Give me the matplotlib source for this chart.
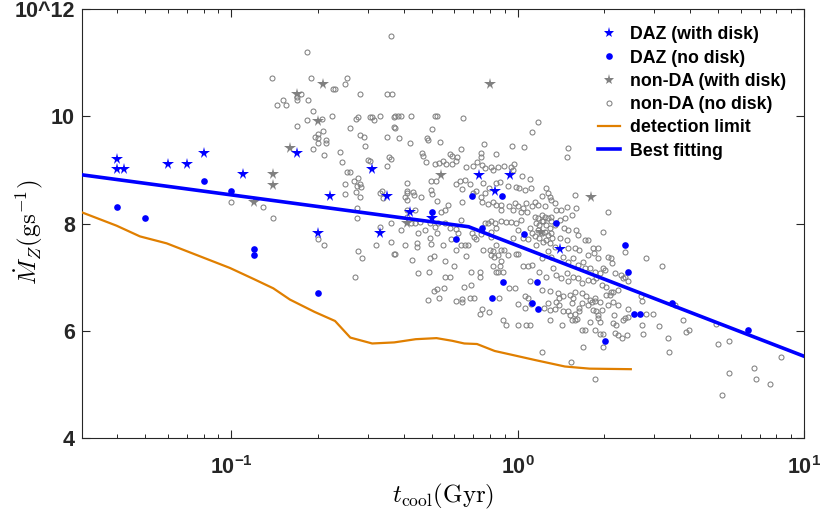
import numpy as np
import matplotlib
matplotlib.use("Agg")
import matplotlib.pyplot as plt
from matplotlib.lines import Line2D
from matplotlib.ticker import FixedLocator, FixedFormatter, LogLocator, NullFormatter

plt.rcParams['font.family'] = ['Liberation Sans', 'DejaVu Sans']
plt.rcParams['mathtext.fontset'] = 'custom'
plt.rcParams['mathtext.rm'] = 'Liberation Sans'
plt.rcParams['mathtext.bf'] = 'Liberation Sans:bold'
plt.rcParams['mathtext.it'] = 'Liberation Sans:italic'

# DAZ with disk (t_cool [Gyr], log Mdot_Z [g/s])
daz_disk_t = [0.04, 0.04, 0.042, 0.06, 0.07, 0.08, 0.11, 0.17, 0.20, 0.22, 0.31,
              0.33, 0.35, 0.42, 0.50, 0.73, 0.83, 0.94, 1.40]
daz_disk_m = [9.20, 9.02, 9.02, 9.12, 9.12, 9.32, 8.92, 9.32, 7.82, 8.52, 9.02,
              7.82, 8.52, 8.21, 8.10, 8.91, 8.61, 8.91, 7.52]

# DAZ without disk
daz_nodisk_t = [0.04, 0.05, 0.08, 0.10, 0.12, 0.12, 0.20, 0.50, 0.69, 0.88, 0.75,
                0.61, 1.05, 1.36, 2.37, 2.43, 0.89, 1.17, 0.81, 1.12, 1.18, 2.55,
                2.66, 2.01, 3.45, 6.36]
daz_nodisk_m = [8.31, 8.10, 8.80, 8.61, 7.52, 7.42, 6.70, 8.22, 8.51, 8.51, 7.91,
                7.71, 7.81, 8.01, 7.60, 7.10, 6.90, 6.90, 6.61, 6.51, 6.40, 6.31,
                6.31, 5.81, 6.51, 6.01]

# non-DA with disk
nonda_disk_t = [0.208, 0.169, 0.20, 0.16, 0.14, 0.14, 0.12, 0.80, 0.54, 1.80, 0.41, 1.20]
nonda_disk_m = [10.61, 10.42, 9.91, 9.41, 8.92, 8.72, 8.41, 10.61, 8.91, 8.50, 8.01, 7.85]

# non-DA without disk, (t_cool, log Mdot_Z)
nonda_nodisk = [
    # t < 0.4 Gyr
    (0.36, 11.51), (0.183, 11.21), (0.138, 10.71), (0.19, 10.71), (0.254, 10.71),
    (0.249, 10.61), (0.226, 10.51), (0.23, 10.51), (0.28, 10.42), (0.348, 10.42),
    (0.363, 10.42), (0.175, 10.42), (0.169, 10.37), (0.169, 10.31), (0.151, 10.31),
    (0.185, 10.31), (0.144, 10.21), (0.155, 10.21), (0.193, 10.11), (0.225, 10.01),
    (0.184, 9.94), (0.207, 9.96), (0.272, 9.96), (0.276, 9.99), (0.304, 9.99),
    (0.31, 9.99), (0.314, 9.94), (0.33, 10.0), (0.368, 9.99), (0.368, 9.81),
    (0.169, 9.82), (0.26, 9.78), (0.209, 9.73), (0.2, 9.68), (0.195, 9.61),
    (0.2, 9.59), (0.2, 9.51), (0.213, 9.56), (0.213, 9.51), (0.28, 9.66),
    (0.29, 9.61), (0.293, 9.45), (0.35, 9.61), (0.193, 9.40), (0.21, 9.28),
    (0.24, 9.33), (0.243, 9.15), (0.30, 9.19), (0.304, 9.17), (0.355, 9.25),
    (0.36, 9.21), (0.35, 9.08), (0.254, 8.96), (0.26, 8.96), (0.277, 8.85),
    (0.268, 8.79), (0.281, 8.74), (0.274, 8.70), (0.283, 8.69), (0.25, 8.74),
    (0.25, 8.55), (0.273, 8.58), (0.281, 8.50), (0.335, 8.61), (0.33, 8.57),
    (0.337, 8.47), (0.10, 8.41), (0.129, 8.31), (0.14, 8.10), (0.274, 8.29),
    (0.274, 8.10), (0.33, 7.94), (0.36, 8.01), (0.36, 7.66), (0.32, 7.60),
    (0.277, 7.49), (0.286, 7.36), (0.27, 7.01), (0.37, 7.43), (0.2, 7.71),
    (0.21, 7.60), (0.41, 8.26), (0.41, 8.13), (0.41, 8.57), (0.41, 8.60),
    # 0.37 - 1.1 Gyr, upper part
    (0.372, 10.01), (0.383, 10.01), (0.39, 10.01), (0.423, 10.01), (0.513, 10.0),
    (0.52, 10.01), (0.643, 9.98), (0.372, 9.79), (0.503, 9.76), (0.384, 9.59),
    (0.42, 9.51), (0.483, 9.60), (0.487, 9.56), (0.535, 9.52), (0.762, 9.48),
    (0.632, 9.39), (0.956, 9.44), (1.05, 9.43), (1.12, 9.71), (0.463, 9.31),
    (0.466, 9.27), (0.578, 9.29), (0.59, 9.27), (0.613, 9.24), (0.746, 9.31),
    (0.742, 9.24), (0.839, 9.30), (0.477, 9.15), (0.513, 9.11), (0.53, 9.13),
    (0.548, 9.17), (0.562, 9.11), (0.589, 9.11), (0.61, 9.17), (0.66, 9.05),
    (0.695, 9.07), (0.72, 9.14), (0.75, 9.10), (0.77, 9.03), (0.808, 9.05),
    (0.82, 9.0), (0.853, 9.05), (0.895, 9.07), (0.97, 9.12), (0.949, 9.05),
    (0.962, 9.0), (1.03, 8.88), (1.10, 8.83), (0.41, 8.75), (0.499, 8.79),
    (0.517, 8.79), (0.61, 8.74), (0.626, 8.79), (0.652, 8.82), (0.683, 8.74),
    (0.755, 8.75), (0.79, 8.66), (0.836, 8.75), (0.863, 8.77), (0.924, 8.70),
    (0.988, 8.69), (1.01, 8.66), (1.056, 8.63), (1.115, 8.66), (0.403, 8.50),
    (0.41, 8.44), (0.431, 8.58), (0.434, 8.54), (0.46, 8.50), (0.496, 8.62),
    (0.503, 8.56), (0.524, 8.43), (0.64, 8.65), (0.695, 8.57), (0.714, 8.61),
    (0.766, 8.57), (0.742, 8.50), (0.75, 8.41), (0.787, 8.37), (0.819, 8.41),
    (0.841, 8.35), (0.87, 8.35), (0.876, 8.26), (0.935, 8.32), (0.975, 8.38),
    (0.962, 8.26), (1.0, 8.33), (1.042, 8.29), (1.07, 8.38), (1.12, 8.32),
    (1.023, 8.22), (1.078, 8.21), (0.57, 8.35), (0.555, 8.26), (0.538, 8.21),
    (0.64, 8.41), (0.436, 8.26),
    # 0.37 - 1.1 Gyr, lower part
    (0.392, 7.88), (0.448, 7.83), (0.473, 7.88), (0.423, 8.01), (0.436, 8.01),
    (0.454, 8.03), (0.495, 8.01), (0.513, 7.93), (0.52, 7.82), (0.526, 8.01),
    (0.555, 8.01), (0.578, 7.91), (0.61, 7.90), (0.618, 7.82), (0.635, 8.07),
    (0.493, 7.73), (0.499, 7.62), (0.403, 7.60), (0.446, 7.63), (0.446, 7.56),
    (0.548, 7.60), (0.586, 7.71), (0.61, 7.51), (0.635, 7.60), (0.652, 7.60),
    (0.67, 7.60), (0.694, 7.82), (0.701, 7.74), (0.716, 7.71), (0.746, 7.80),
    (0.766, 8.01), (0.787, 8.01), (0.808, 8.04), (0.83, 8.01), (0.841, 7.91),
    (0.808, 7.85), (0.803, 7.75), (0.876, 8.04), (0.91, 8.03), (0.949, 8.03),
    (0.988, 8.01), (1.023, 8.07), (0.962, 7.73), (1.001, 7.88), (1.042, 7.73),
    (1.085, 7.71), (1.12, 7.82), (1.10, 7.91), (0.758, 7.51), (0.797, 7.51),
    (0.819, 7.48), (0.841, 7.60), (0.808, 7.41), (0.825, 7.37), (0.853, 7.41),
    (0.876, 7.51), (0.895, 7.51), (0.924, 7.41), (0.988, 7.43), (1.0, 7.43),
    (1.042, 7.20), (1.085, 7.20), (1.12, 7.23), (0.658, 7.40), (0.599, 7.20),
    (0.555, 7.30), (0.493, 7.35), (0.51, 7.40), (0.819, 7.20), (0.866, 7.20),
    (0.876, 7.30), (0.841, 7.10), (0.853, 7.10), (0.886, 7.10), (0.427, 7.32),
    (0.372, 7.43), (0.448, 7.07), (0.488, 7.10), (0.555, 7.01), (0.578, 7.01),
    (0.688, 7.10), (0.736, 7.10), (0.74, 7.01), (0.649, 6.81), (0.688, 6.85),
    (0.51, 6.74), (0.524, 6.77), (0.551, 6.80), (0.487, 6.57), (0.529, 6.61),
    (0.607, 6.56), (0.64, 6.59), (0.64, 6.54), (0.679, 6.61), (0.701, 6.61),
    (0.929, 6.80), (0.98, 6.80), (0.857, 6.61), (1.056, 6.64), (1.085, 6.61),
    (1.0, 6.49), (1.056, 6.42), (1.108, 6.49), (0.75, 6.40), (0.74, 6.31),
    (0.793, 6.34), (0.886, 6.20), (0.907, 6.11), (1.0, 6.11), (1.065, 6.11),
    (1.10, 6.11), (1.10, 6.92),
    # 1.1 - 2.1 Gyr, upper part
    (1.18, 9.89), (1.50, 9.41), (1.48, 9.25), (1.58, 8.54), (1.25, 8.66),
    (1.27, 8.57), (1.21, 8.52), (1.29, 8.50), (1.31, 8.44), (1.35, 8.38),
    (1.48, 8.30), (1.60, 8.29), (1.36, 8.26), (1.42, 8.26), (1.15, 8.41),
    (1.18, 8.35), (1.24, 8.32), (2.07, 8.21),
    # dense clump around 1.2 Gyr
    (1.15, 8.13), (1.18, 8.10), (1.21, 8.16), (1.24, 8.13), (1.16, 8.01),
    (1.19, 7.98), (1.22, 8.04), (1.25, 7.98), (1.29, 7.91), (1.18, 7.88),
    (1.21, 7.82), (1.24, 7.85), (1.27, 7.79), (1.31, 7.82), (1.15, 7.76),
    (1.19, 7.73), (1.22, 7.66), (1.25, 7.70), (1.29, 7.63), (1.32, 7.73),
    (1.16, 7.60), (1.35, 7.98), (1.35, 7.57), (1.31, 8.04), (1.27, 8.10),
    (1.21, 8.04), (1.31, 8.13), (1.40, 8.07), (1.46, 8.11), (1.54, 8.16),
    (1.45, 7.91), (1.50, 7.88), (1.59, 7.88), (1.62, 7.79), (1.98, 7.84),
    # 1.1 - 3.4 Gyr, lower part
    (1.40, 7.73), (1.48, 7.70), (1.50, 7.54), (1.58, 7.54), (1.64, 7.51),
    (1.71, 7.70), (1.76, 7.70), (1.83, 7.54), (1.91, 7.55), (1.76, 7.41),
    (1.85, 7.45), (1.91, 7.35), (2.12, 7.35), (2.07, 7.38), (1.98, 7.17),
    (2.13, 7.26), (1.21, 7.35), (1.27, 7.48), (1.31, 7.38), (1.44, 7.38),
    (1.50, 7.29), (1.56, 7.35), (1.62, 7.23), (1.69, 7.29), (1.71, 7.17),
    (1.78, 7.17), (1.86, 7.10), (1.94, 7.07), (2.01, 7.13), (2.18, 7.07),
    (2.30, 7.04), (2.36, 7.01), (2.33, 6.98), (2.43, 6.92), (1.19, 7.10),
    (1.25, 7.01), (1.33, 7.17), (1.36, 7.04), (1.42, 6.98), (1.48, 7.07),
    (1.50, 6.92), (1.56, 7.01), (1.62, 6.98), (1.67, 6.89), (1.76, 6.95),
    (1.83, 6.92), (1.88, 6.98), (1.96, 6.85), (2.03, 6.82), (2.12, 6.73),
    (2.24, 6.76), (1.21, 6.76), (1.29, 6.74), (1.38, 6.70), (1.44, 6.64),
    (1.52, 6.67), (1.58, 6.73), (1.67, 6.70), (1.73, 6.64), (1.78, 6.57),
    (1.86, 6.61), (1.94, 6.54), (2.03, 6.67), (2.09, 6.67), (2.15, 6.72),
    (2.70, 6.64), (2.71, 6.56), (1.27, 6.51), (1.36, 6.54), (1.39, 6.61),
    (1.54, 6.51), (1.56, 6.61), (1.67, 6.51), (1.64, 6.43), (1.76, 6.48),
    (1.81, 6.54), (1.86, 6.56), (1.83, 6.39), (1.88, 6.36), (1.96, 6.39),
    (2.07, 6.47), (2.15, 6.53), (2.24, 6.48), (2.43, 6.41), (2.80, 6.31),
    (2.97, 6.31), (1.23, 6.43), (1.30, 6.39), (1.35, 6.41), (1.39, 6.48),
    (1.44, 6.36), (1.50, 6.36), (1.52, 6.29), (1.58, 6.31), (1.64, 6.36),
    (1.54, 6.20), (1.58, 6.20), (1.61, 6.21), (1.78, 6.16), (1.90, 6.23),
    (1.94, 6.17), (1.91, 6.29), (2.16, 6.29), (2.37, 6.23), (2.33, 6.20),
    (2.43, 6.26), (2.15, 6.14), (2.21, 6.11), (1.67, 6.01), (1.71, 6.01),
    (1.86, 6.01), (1.94, 5.94), (1.98, 5.94), (2.18, 5.95), (2.24, 5.92),
    (2.31, 5.86), (2.40, 5.92), (1.30, 6.20), (1.43, 6.11), (2.71, 6.11),
    (3.12, 6.09), (2.73, 5.93), (3.35, 5.86), (3.37, 5.61), (1.21, 5.61),
    (1.53, 5.42), (1.69, 5.70), (1.98, 5.70), (1.86, 5.10), (2.37, 7.46),
    (2.81, 7.35), (3.18, 7.20),
    # t > 3.4 Gyr
    (3.53, 6.48), (3.77, 6.20), (3.85, 5.98), (3.96, 6.01), (4.93, 6.13),
    (4.99, 5.75), (5.48, 5.81), (5.48, 5.20), (5.17, 4.80), (6.69, 5.30),
    (6.79, 5.10), (7.62, 5.00), (8.30, 5.50),
]

# detection limit curve
det_t = [0.03, 0.0397, 0.0479, 0.0594, 0.0988, 0.12, 0.14, 0.16, 0.195, 0.23,
         0.26, 0.31, 0.37, 0.44, 0.52, 0.59, 0.65, 0.72, 0.83, 0.95, 1.15,
         1.46, 1.78, 2.48]
det_m = [8.21, 7.96, 7.76, 7.63, 7.17, 6.96, 6.79, 6.58, 6.35, 6.18,
         5.87, 5.76, 5.78, 5.84, 5.86, 5.81, 5.76, 5.75, 5.62, 5.55, 5.45,
         5.33, 5.29, 5.28]

# best fitting broken line
fit_t = [0.03, 0.673, 10.0]
fit_m = [8.91, 7.94, 5.52]

gray = (0.5, 0.5, 0.5)
orange = '#e07f00'
tick_col = '#262626'

fig = plt.figure(figsize=(8.22, 5.16), dpi=100)
ax = fig.add_axes([0.0994, 0.1517, 0.879, 0.8302])

nd = np.array(nonda_nodisk)
ax.plot(nd[:, 0], nd[:, 1], 'o', mfc='none', mec=gray, ms=3.6, mew=0.75, zorder=2)
ax.plot(nonda_disk_t, nonda_disk_m, '*', color=gray, ms=8.5, mew=0, zorder=3)
ax.plot(det_t, det_m, '-', color=orange, lw=1.6, zorder=3)
ax.plot(daz_disk_t, daz_disk_m, '*', color='blue', ms=8.5, mew=0, zorder=4)
ax.plot(daz_nodisk_t, daz_nodisk_m, 'o', color='blue', ms=4.8, mew=0, zorder=4)
ax.plot(fit_t, fit_m, '-', color='blue', lw=2.6, zorder=5)

ax.set_xscale('log')
ax.set_xlim(0.03, 10)
ax.set_ylim(4, 12)

ax.xaxis.set_major_locator(FixedLocator([0.1, 1, 10]))
ax.xaxis.set_major_formatter(FixedFormatter([r'$\mathbf{10^{-1}}$', r'$\mathbf{10^{0}}$', r'$\mathbf{10^{1}}$']))
ax.xaxis.set_minor_locator(LogLocator(base=10, subs=np.arange(2, 10), numticks=20))
ax.xaxis.set_minor_formatter(NullFormatter())
ax.set_yticks([4, 6, 8, 10, 12])
ax.set_yticklabels(['4', '6', '8', '10', '10^12'])

ax.tick_params(which='both', direction='in', top=True, right=True, colors=tick_col)
ax.tick_params(which='major', length=5.5, width=0.8, labelsize=15.5)
ax.tick_params(which='minor', length=3, width=0.7)
ax.tick_params(axis='x', which='major', pad=13)
ax.tick_params(axis='y', which='major', pad=5)
for lab in ax.get_xticklabels() + ax.get_yticklabels():
    lab.set_fontweight('bold')
    lab.set_color(tick_col)
for sp in ax.spines.values():
    sp.set_color(tick_col)
    sp.set_linewidth(0.8)

ax.set_xlabel(r'$t_{\rm cool}(\rm Gyr)$', fontsize=18, math_fontfamily='cm', labelpad=2)
ax.set_ylabel(r'$\dot{M}_Z(\rm gs^{-1})$', fontsize=18, math_fontfamily='cm')
ax.yaxis.set_label_coords(-0.05, 0.48)

handles = [
    Line2D([], [], ls='none', marker='*', color='blue', ms=8, mew=0),
    Line2D([], [], ls='none', marker='o', color='blue', ms=4.8, mew=0),
    Line2D([], [], ls='none', marker='*', color=gray, ms=8, mew=0),
    Line2D([], [], ls='none', marker='o', mfc='none', mec=gray, ms=3.6, mew=0.75),
    Line2D([], [], color=orange, lw=1.6),
    Line2D([], [], color='blue', lw=2.6),
]
labels = ['DAZ (with disk)', 'DAZ (no disk)', 'non-DA (with disk)',
          'non-DA (no disk)', 'detection limit', 'Best fitting']
ax.legend(handles, labels, loc='upper right', bbox_to_anchor=(0.99, 0.985),
          frameon=False, prop={'weight': 'bold', 'size': 12.8},
          handlelength=1.25, handletextpad=0.55, labelspacing=0.35, borderaxespad=0.2)

fig.savefig('out.png', dpi=100)
